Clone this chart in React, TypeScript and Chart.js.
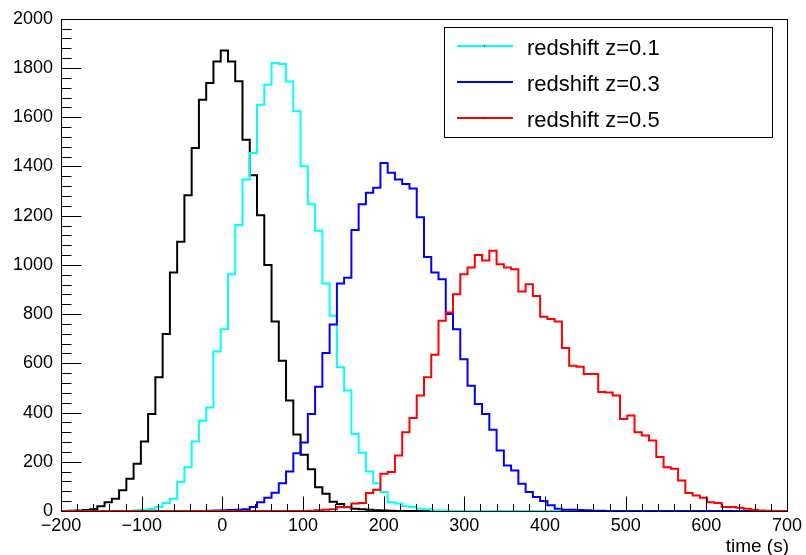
import React, { useEffect, useRef } from "react";
import { Chart, registerables } from "chart.js";
Chart.register(...registerables);

// Histogram definition: 100 bins of 9 s from -200 to 700
const X_MIN = -200;
const X_MAX = 700;
const BIN_WIDTH = 9;
const Y_MIN = 0;
const Y_MAX = 2000;

const xTickValues = [-200, -100, 0, 100, 200, 300, 400, 500, 600, 700];
const yTickValues = [0, 200, 400, 600, 800, 1000, 1200, 1400, 1600, 1800, 2000];
const axisTitle = "time (s)";
const legendLabels = ["redshift z=0.1", "redshift z=0.3", "redshift z=0.5"];

// reference (no redshift), not in legend
const counts_ref = [
  0, 1, 2, 4, 7, 19, 36, 50, 84, 131,
  192, 282, 394, 543, 719, 969, 1094, 1283, 1475, 1671,
  1739, 1827, 1871, 1827, 1746, 1509, 1364, 1202, 1000, 770,
  611, 449, 311, 229, 170, 97, 70, 38, 28, 15,
  9, 7, 5, 3, 2, 1, 0, 0, 0, 0,
  0, 0, 0, 0, 0, 0, 0, 0, 0, 0,
  0, 0, 0, 0, 0, 0, 0, 0, 0, 0,
  0, 0, 0, 0, 0, 0, 0, 0, 0, 0,
  0, 0, 0, 0, 0, 0, 0, 0, 0, 0,
  0, 0, 0, 0, 0, 0, 0, 0, 0, 0,
];

const counts_z01 = [
  0, 0, 0, 0, 0, 0, 0, 0, 0, 0,
  3, 5, 8, 16, 32, 50, 118, 178, 282, 367,
  421, 648, 739, 962, 1162, 1347, 1455, 1651, 1732, 1820,
  1816, 1745, 1624, 1401, 1246, 1139, 924, 793, 584, 490,
  313, 237, 160, 113, 77, 36, 30, 19, 16, 9,
  7, 3, 2, 1, 0, 0, 0, 0, 0, 0,
  0, 0, 0, 0, 0, 0, 0, 0, 0, 0,
  0, 0, 0, 0, 0, 0, 0, 0, 0, 0,
  0, 0, 0, 0, 0, 0, 0, 0, 0, 0,
  0, 0, 0, 0, 0, 0, 0, 0, 0, 0,
];

const counts_z03 = [
  0, 0, 0, 0, 0, 0, 0, 0, 0, 0,
  0, 0, 0, 0, 0, 0, 0, 0, 0, 0,
  1, 2, 3, 4, 5, 7, 16, 36, 54, 74,
  113, 161, 235, 278, 394, 505, 642, 758, 924, 948,
  1142, 1246, 1293, 1313, 1414, 1374, 1347, 1329, 1310, 1194,
  1032, 969, 942, 800, 739, 617, 509, 435, 394, 330,
  246, 185, 165, 111, 77, 57, 41, 23, 9, 5,
  5, 4, 3, 1, 1, 0, 0, 0, 0, 0,
  0, 0, 0, 0, 0, 0, 0, 0, 0, 0,
  0, 0, 0, 0, 0, 0, 0, 0, 0, 0,
];

const counts_z05 = [
  0, 0, 0, 0, 0, 0, 0, 0, 0, 0,
  0, 0, 0, 0, 0, 0, 0, 0, 0, 0,
  0, 0, 0, 0, 0, 0, 0, 0, 0, 0,
  0, 0, 0, 0, 1, 3, 5, 7, 16, 16,
  30, 32, 73, 86, 151, 158, 226, 320, 378, 469,
  543, 635, 773, 807, 881, 962, 989, 1040, 1018, 1057,
  1003, 989, 982, 892, 921, 874, 789, 780, 770, 662,
  590, 586, 557, 557, 484, 482, 469, 374, 388, 320,
  307, 286, 219, 178, 172, 124, 73, 63, 54, 36,
  32, 16, 16, 13, 9, 5, 2, 1, 0, 0,
];

const COLORS = { ref: "#000000", z01: "#00ffff", z03: "#0000ff", z05: "#ff0000" };
const FONT = "'Liberation Sans', Arial, Helvetica, sans-serif";

function toSteps(vals: number[]) {
  // point at each bin's left edge carries that bin's count; final point closes the last bin
  const pts = vals.map((v, i) => ({ x: X_MIN + i * BIN_WIDTH, y: v }));
  pts.push({ x: X_MIN + vals.length * BIN_WIDTH, y: vals[vals.length - 1] });
  return pts;
}

function fmt(v: number) {
  return v < 0 ? "\u2212" + Math.abs(v) : String(v);
}

const framePlugin = {
  id: "rootFrame",
  afterDatasetsDraw(chart: any) {
    const { ctx, chartArea: a, scales } = chart;
    const x = scales.x;
    const y = scales.y;
    ctx.save();
    ctx.strokeStyle = "#000";
    ctx.lineWidth = 1;
    const L = Math.round(a.left) + 0.5;
    const B = Math.round(a.bottom) + 0.5;
    ctx.strokeRect(L, Math.round(a.top) + 0.5, Math.round(a.right - a.left), Math.round(a.bottom - a.top));
    ctx.beginPath();
    for (let v = Y_MIN; v <= Y_MAX; v += 40) {
      const py = Math.round(y.getPixelForValue(v)) + 0.5;
      const len = v % 200 === 0 ? 20 : 10;
      ctx.moveTo(L, py);
      ctx.lineTo(L + len, py);
    }
    for (let v = X_MIN; v <= X_MAX; v += 20) {
      const px = Math.round(x.getPixelForValue(v)) + 0.5;
      const len = v % 100 === 0 ? 15 : 7.5;
      ctx.moveTo(px, B);
      ctx.lineTo(px, B - len);
    }
    ctx.stroke();

    // axis title
    ctx.fillStyle = "#000";
    ctx.font = `19px ${FONT}`;
    ctx.textAlign = "right";
    ctx.textBaseline = "alphabetic";
    ctx.fillText(axisTitle, a.right + 2, 552);

    // legend
    const lx = 444.5, ly = 27.5, lw = 328, lh = 110;
    ctx.fillStyle = "#fff";
    ctx.fillRect(lx, ly, lw, lh);
    ctx.strokeStyle = "#000";
    ctx.lineWidth = 1;
    ctx.strokeRect(lx, ly, lw, lh);
    const cols = [COLORS.z01, COLORS.z03, COLORS.z05];
    const baselines = [55, 91, 127];
    ctx.font = `22px ${FONT}`;
    ctx.textAlign = "left";
    legendLabels.forEach((lab, i) => {
      const yy = baselines[i] - 9;
      ctx.strokeStyle = cols[i];
      ctx.lineWidth = 2;
      ctx.beginPath();
      ctx.moveTo(457, yy);
      ctx.lineTo(513, yy);
      ctx.stroke();
      ctx.fillStyle = "#000";
      ctx.fillRect(484, yy - 0.5, 1, 1);
      ctx.fillText(lab, 527, baselines[i]);
    });
    ctx.restore();
  },
};

export default function App() {
  const ref = useRef<HTMLCanvasElement | null>(null);
  useEffect(() => {
    document.body.style.margin = "0";
    const canvas = ref.current;
    if (!canvas) return;
    const mk = (data: number[], color: string, order: number) => ({
      data: toSteps(data),
      borderColor: color,
      backgroundColor: color,
      borderWidth: 2,
      pointRadius: 0,
      stepped: "before" as const,
      fill: false,
      order,
    });
    const chart = new Chart(canvas, {
      type: "line",
      data: {
        datasets: [
          mk(counts_z05, COLORS.z05, 0),
          mk(counts_z03, COLORS.z03, 1),
          mk(counts_z01, COLORS.z01, 2),
          mk(counts_ref, COLORS.ref, 3),
        ],
      },
      options: {
        responsive: false,
        animation: false,
        layout: { padding: { left: 0, top: 16, right: 18, bottom: 0 } },
        plugins: { legend: { display: false }, tooltip: { enabled: false } },
        scales: {
          x: {
            type: "linear",
            min: X_MIN,
            max: X_MAX,
            afterBuildTicks: (s: any) => {
              s.ticks = xTickValues.map((v) => ({ value: v }));
            },
            afterFit: (s: any) => {
              s.height = 44;
            },
            ticks: {
              autoSkip: false,
              maxRotation: 0,
              padding: 4,
              color: "#000",
              font: { family: FONT, size: 18 },
              callback: (v: any) => fmt(Number(v)),
            },
            grid: { display: false, drawTicks: false },
            border: { display: false },
          },
          y: {
            type: "linear",
            min: Y_MIN,
            max: Y_MAX,
            afterBuildTicks: (s: any) => {
              s.ticks = yTickValues.map((v) => ({ value: v }));
            },
            afterFit: (s: any) => {
              s.width = 61;
            },
            ticks: {
              autoSkip: false,
              padding: 8,
              color: "#000",
              font: { family: FONT, size: 18 },
              callback: (v: any) => fmt(Number(v)),
            },
            grid: { display: false, drawTicks: false },
            border: { display: false },
          },
        },
      },
      plugins: [framePlugin],
    });
    return () => chart.destroy();
  }, []);
  return (
    <div style={{ width: 806, height: 555, background: "#fff" }}>
      <canvas ref={ref} width={806} height={555} style={{ display: "block" }} />
    </div>
  );
}
